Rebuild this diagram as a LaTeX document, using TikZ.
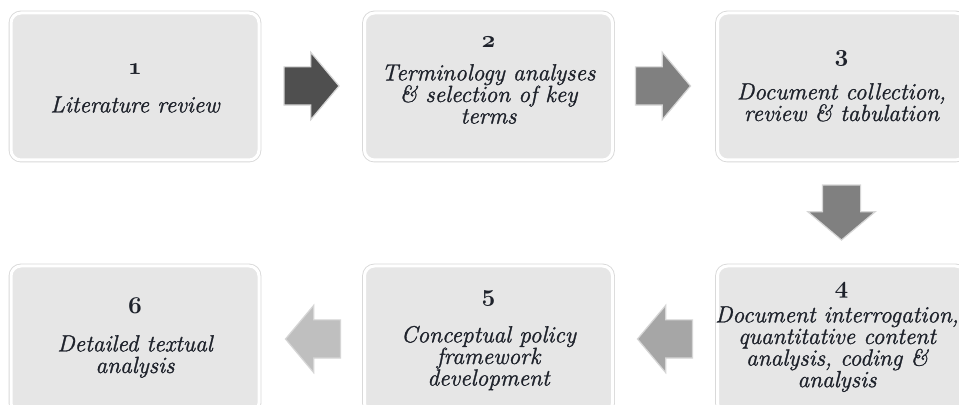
\documentclass[tikz,border=0pt]{standalone}
\usepackage{fontspec}
\usetikzlibrary{shapes.arrows}
\newfontfamily\bodyfont{lmroman12-italic.otf}[FakeBold=1.2]
\definecolor{boxfill}{HTML}{E6E6E6}
\definecolor{boxline}{HTML}{D9D9D9}
\definecolor{txtcol}{HTML}{1E222B}
\definecolor{arA}{HTML}{4F4F4F}
\definecolor{arB}{HTML}{808080}
\definecolor{arC}{HTML}{A6A6A6}
\definecolor{arD}{HTML}{BFBFBF}
\definecolor{arEdge}{HTML}{D6D6D6}
\newcommand{\stepnum}[1]{{\fontencoding{OML}\fontfamily{cmm}\fontseries{b}\fontshape{it}\selectfont #1}}
\begin{document}
\begin{tikzpicture}[x=0.5pt,y=-0.5pt,
  stepbox/.style={rectangle, rounded corners=5pt, fill=boxfill, draw=white, line width=1.5pt,
    preaction={draw=boxline, line width=2.4pt}, minimum width=124pt, minimum height=73.5pt, inner sep=0pt},
  blockarrow/.style={single arrow, draw=arEdge, line width=0.6pt, minimum height=27.5pt, minimum width=33pt,
    single arrow head extend=7.25pt, single arrow tip angle=100, inner xsep=0pt, inner ysep=9.25pt},
  numtxt/.style={font=\fontsize{11.7pt}{12pt}\selectfont, text=txtcol, inner sep=0pt, anchor=base},
  bodytxt/.style={font={\bodyfont\fontsize{11.7pt}{10.8pt}\selectfont\lineskiplimit=-5pt}, text=txtcol, align=center, inner sep=0pt, anchor=north}]
\useasboundingbox (0,0) rectangle (959,405);
\clip (0,0) rectangle (959,405);
\fill[white] (0,0) rectangle (959,405);
% boxes
\node[stepbox] (b1) at (135,86.5) {};
\node[stepbox] (b2) at (488.5,86.5) {};
\node[stepbox] (b3) at (841.5,86.5) {};
\node[stepbox] (b4) at (841.5,339.5) {};
\node[stepbox] (b5) at (488.5,339.5) {};
\node[stepbox] (b6) at (135,339.5) {};
% block arrows
\node[blockarrow, fill=arA] (a1) at (303.5,86) {};
\node[blockarrow, fill=arB] (a2) at (655,86) {};
\node[blockarrow, fill=arB, rotate=-90] (a3) at (841.5,204.5) {};
\node[blockarrow, fill=arC, rotate=180] (a4) at (673,339) {};
\node[blockarrow, fill=arD, rotate=180] (a5) at (321,339) {};
% numbers
\node[numtxt] (n1) at (135,75) {\stepnum{1}};
\node[numtxt] (n2) at (488.5,48) {\stepnum{2}};
\node[numtxt] (n3) at (841.5,62) {\stepnum{3}};
\node[numtxt] (n4) at (841.5,294) {\stepnum{4}};
\node[numtxt] (n5) at (488.5,302) {\stepnum{5}};
\node[numtxt] (n6) at (135,314) {\stepnum{6}};
% texts
\node[bodytxt] (t1) at (135,94) {\rule{0pt}{9pt}Literature review};
\node[bodytxt] (t2) at (488.5,62) {\rule{0pt}{9pt}Terminology analyses\\ \& selection of key\\ terms};
\node[bodytxt] (t3) at (841.5,81) {\rule{0pt}{9pt}Document collection,\\ review \& tabulation};
\node[bodytxt] (t4) at (837,304) {\rule{0pt}{9pt}Document interrogation,\\ quantitative content\\ analysis, coding \&\\ analysis};
\node[bodytxt] (t5) at (488.5,324) {\rule{0pt}{9pt}Conceptual policy\\ framework\\ development};
\node[bodytxt] (t6) at (135,333) {\rule{0pt}{9pt}Detailed textual\\ analysis};
\end{tikzpicture}
\end{document}
